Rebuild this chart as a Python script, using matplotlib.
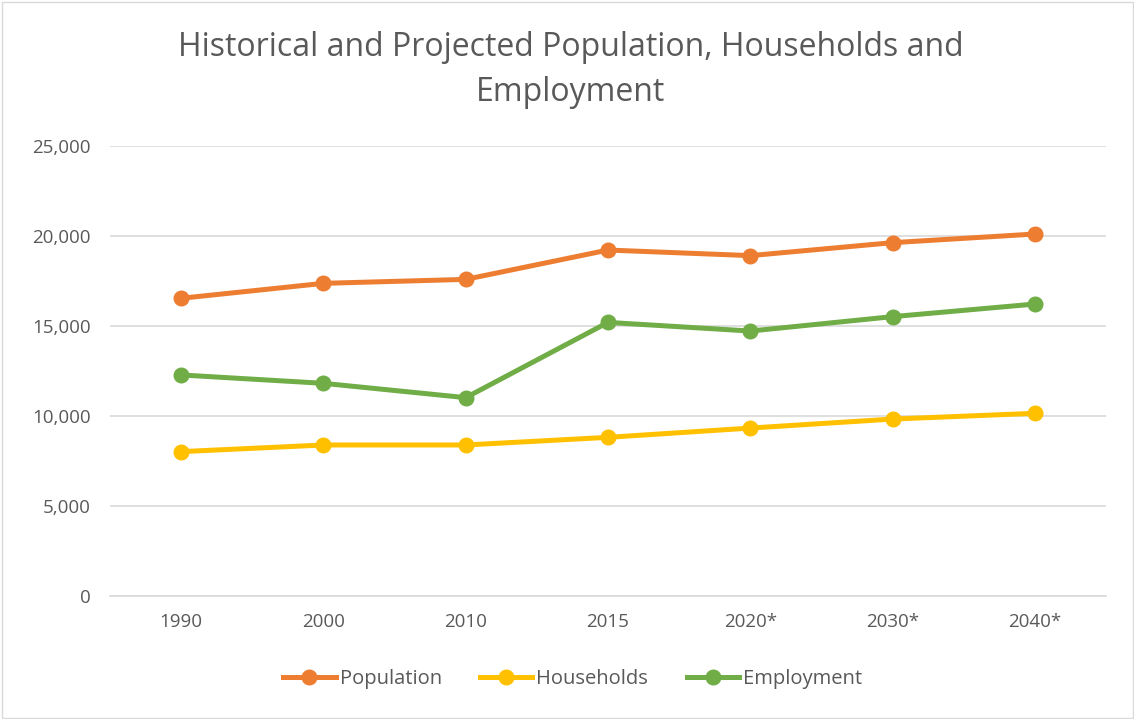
import matplotlib.pyplot as plt
from matplotlib.patches import Rectangle
from matplotlib.ticker import FuncFormatter

# Data
years = ['1990', '2000', '2010', '2015', '2020*', '2030*', '2040*']
population = [16540, 17370, 17590, 19220, 18910, 19630, 20110]
households = [8020, 8390, 8390, 8815, 9330, 9830, 10150]
employment = [12280, 11815, 11020, 15200, 14720, 15520, 16220]

plt.rcParams['font.family'] = ['Open Sans', 'DejaVu Sans']
text_color = '#595959'

fig = plt.figure(figsize=(11.34, 7.19), dpi=100)
ax = fig.add_axes([110 / 1134, 1 - 596 / 719, 996 / 1134, 450 / 719])

x = range(len(years))
ax.plot(x, population, color='#ED7D31', lw=3.6, marker='o', ms=10.5, label='Population')
ax.plot(x, households, color='#FFC000', lw=3.6, marker='o', ms=10.5, label='Households')
ax.plot(x, employment, color='#70AD47', lw=3.6, marker='o', ms=10.5, label='Employment')

ax.set_xlim(-0.5, len(years) - 0.5)
ax.set_ylim(0, 25000)
ax.set_yticks(range(0, 25001, 5000))
ax.yaxis.set_major_formatter(FuncFormatter(lambda v, p: f'{int(v):,}'))
ax.set_xticks(list(x))
ax.set_xticklabels(years)
ax.grid(axis='y', color='#D9D9D9', lw=1.2)
ax.set_axisbelow(True)
for s in ['top', 'right', 'left']:
    ax.spines[s].set_visible(False)
ax.spines['bottom'].set_color('#D9D9D9')
ax.spines['bottom'].set_linewidth(1.2)
ax.tick_params(length=0, labelsize=13.5, colors=text_color, pad=12)
ax.tick_params(axis='y', pad=14)

fig.text(0.503, 1 - 70 / 719, 'Historical and Projected Population, Households and\nEmployment',
         ha='center', va='center', fontsize=23, color=text_color, linespacing=1.45)

fig.legend(loc='center', bbox_to_anchor=(0.505, 1 - 679 / 719), ncol=3, frameon=False,
           fontsize=14.5, labelcolor=text_color, handlelength=2.6, handletextpad=0.2,
           columnspacing=1.9)

fig.patches.append(Rectangle((1.5 / 1134, 1.5 / 719), 1 - 3 / 1134, 1 - 3 / 719,
                             transform=fig.transFigure, fill=False, ec='#D9D9D9', lw=1))

fig.savefig('out.png', dpi=100, facecolor='white')
